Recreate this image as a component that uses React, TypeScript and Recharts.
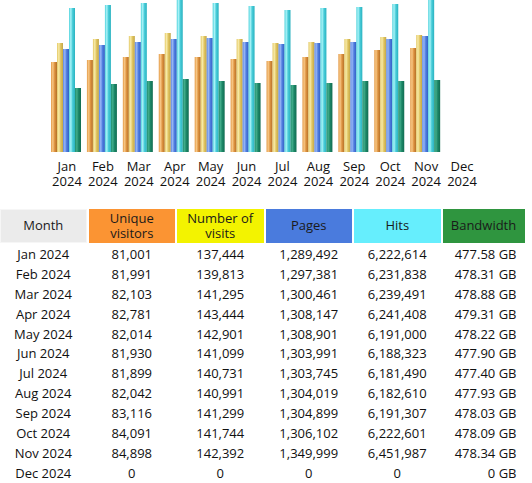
import React from "react";
import { Bar, BarChart, XAxis, YAxis } from "recharts";

const MONTHS = ["Jan", "Feb", "Mar", "Apr", "May", "Jun", "Jul", "Aug", "Sep", "Oct", "Nov", "Dec"];
const YEAR = "2024";

// Bar heights (graph units, 152 = full height).
const VISITORS_BAR = [90, 92, 95, 98, 95, 93, 91, 95, 98, 102, 104, 0];
const VISITS_BAR = [109, 113, 116, 119, 116, 113, 109, 110, 113, 115, 117, 0];
const PAGES_BAR = [103, 107, 110, 113, 114, 110, 108, 109, 110, 113, 116, 0];
const HITS_BAR = [144, 147, 149, 152, 149, 146, 142, 144, 145, 148, 152, 0];
const BANDWIDTH_BAR = [64, 68, 71, 73, 71, 69, 67, 69, 71, 71, 72, 0];

// Table values.
const UNIQUE = [81001, 81991, 82103, 82781, 82014, 81930, 81899, 82042, 83116, 84091, 84898, 0];
const VISITS = [137444, 139813, 141295, 143444, 142901, 141099, 140731, 140991, 141299, 141744, 142392, 0];
const PAGES = [1289492, 1297381, 1300461, 1308147, 1308901, 1303991, 1303745, 1304019, 1304899, 1306102, 1349999, 0];
const HITS = [6222614, 6231838, 6239491, 6241408, 6191000, 6188323, 6181490, 6182610, 6191307, 6222601, 6451987, 0];
const BANDWIDTH_GB = [477.58, 478.31, 478.88, 479.31, 478.22, 477.9, 477.4, 477.93, 478.03, 478.09, 478.34, 0];

const FONT = "'Open Sans', sans-serif";

const SERIES = [
  { key: "visitors", id: "gOrange", stops: ["#e39a48", "#f7c785", "#dd9240", "#b36f27"] },
  { key: "visits", id: "gYellow", stops: ["#e3c865", "#f7eaa8", "#e0c460", "#c2a646"] },
  { key: "pages", id: "gBlue", stops: ["#5b86e6", "#97b6f4", "#507de0", "#3160c2"] },
  { key: "hits", id: "gCyan", stops: ["#4fd2dc", "#a8f2f7", "#48ccd8", "#2ab2c0"] },
  { key: "bandwidth", id: "gGreen", stops: ["#1f8d6d", "#42ac8a", "#1b8666", "#126c52"] },
];

const chartData = MONTHS.map((m, i) => ({
  month: m,
  visitors: VISITORS_BAR[i],
  visits: VISITS_BAR[i],
  pages: PAGES_BAR[i],
  hits: HITS_BAR[i],
  bandwidth: BANDWIDTH_BAR[i],
}));

const HEADERS = [
  { label: "Month", bg: "#ebebeb", border: "1px solid #f6f6f6" },
  { label: "Unique\nvisitors", bg: "#fb9433" },
  { label: "Number of\nvisits", bg: "#f3f300" },
  { label: "Pages", bg: "#4a7bdd" },
  { label: "Hits", bg: "#66eefd" },
  { label: "Bandwidth", bg: "#2f953f" },
];

const fmt = (n: number) => n.toLocaleString("en-US");

function MonthTick({ x, y, payload }: { x?: number; y?: number; payload?: { value: string } }) {
  return (
    <text x={x} y={y} textAnchor="middle" fontFamily={FONT} fontSize={13} fontWeight={500} fill="#111">
      <tspan x={x} dy={19}>{payload?.value}</tspan>
      <tspan x={x} dy={15}>{YEAR}</tspan>
    </text>
  );
}

const COLS = "86.5px 86.5px 86.5px 86.5px 86.5px 82px";

export default function App() {
  return (
    <div style={{ position: "relative", width: 532, height: 483, background: "#fff", fontFamily: FONT }}>
      <style>{`body{margin:0}`}</style>
      <BarChart
        width={532}
        height={195}
        data={chartData}
        margin={{ top: 0, right: 52, left: 49, bottom: 0 }}
        barCategoryGap={2}
        barGap={0}
      >
        <defs>
          {SERIES.map((s) => (
            <linearGradient key={s.id} id={s.id} x1="0" y1="0" x2="1" y2="0">
              <stop offset="0%" stopColor={s.stops[0]} />
              <stop offset="30%" stopColor={s.stops[1]} />
              <stop offset="60%" stopColor={s.stops[2]} />
              <stop offset="100%" stopColor={s.stops[3]} />
            </linearGradient>
          ))}
        </defs>
        <XAxis
          dataKey="month"
          interval={0}
          axisLine={false}
          tickLine={false}
          tickSize={0}
          tickMargin={0}
          height={43}
          tick={<MonthTick />}
        />
        <YAxis hide domain={[0, 152]} />
        {SERIES.map((s) => (
          <Bar key={s.key} dataKey={s.key} fill={`url(#${s.id})`} isAnimationActive={false} />
        ))}
      </BarChart>

      <div style={{ position: "absolute", left: 0, top: 209, width: 532, fontSize: 13, fontWeight: 500, color: "#111" }}>
        <div style={{ display: "grid", gridTemplateColumns: COLS, columnGap: 2, height: 33.5 }}>
          {HEADERS.map((h) => (
            <div
              key={h.label}
              style={{
                background: h.bg,
                border: h.border,
                boxSizing: "border-box",
                display: "flex",
                alignItems: "center",
                justifyContent: "center",
                textAlign: "center",
                whiteSpace: "pre-line",
                lineHeight: "15px",
                color: "#1a1a1a",
              }}
            >
              {h.label}
            </div>
          ))}
        </div>
        <div style={{ height: 1.3 }} />
        {MONTHS.map((m, i) => (
          <div
            key={m}
            style={{ display: "grid", gridTemplateColumns: COLS, columnGap: 2, height: 19.94, alignItems: "center" }}
          >
            <div style={{ textAlign: "center" }}>{`${m} ${YEAR}`}</div>
            <div style={{ textAlign: "center" }}>{fmt(UNIQUE[i])}</div>
            <div style={{ textAlign: "center" }}>{fmt(VISITS[i])}</div>
            <div style={{ textAlign: "center" }}>{fmt(PAGES[i])}</div>
            <div style={{ textAlign: "center" }}>{fmt(HITS[i])}</div>
            <div style={{ textAlign: "right", paddingRight: 8 }}>
              {BANDWIDTH_GB[i] === 0 ? "0 GB" : `${BANDWIDTH_GB[i].toFixed(2)} GB`}
            </div>
          </div>
        ))}
      </div>
    </div>
  );
}
